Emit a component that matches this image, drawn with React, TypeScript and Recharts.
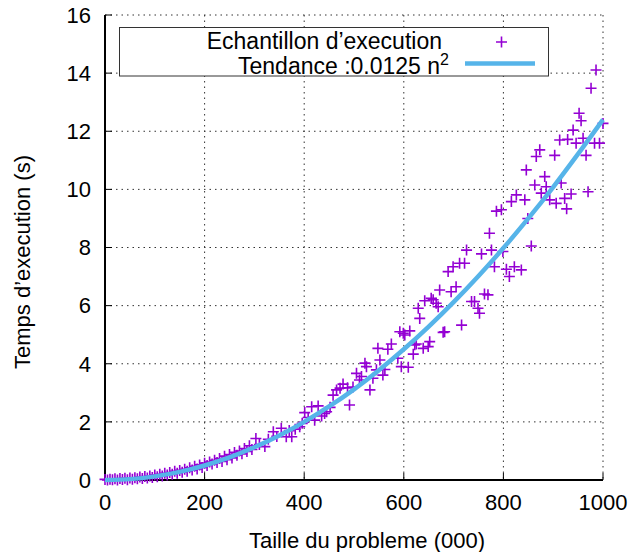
import { ComposedChart, Scatter, Line, XAxis, YAxis, CartesianGrid } from 'recharts';

// Measured samples: problem size (thousands) and execution time (s)
const sampleN = [
  0, 5, 10, 15, 20, 25, 30, 35, 40, 45, 50, 55, 60, 65, 70, 75, 80, 85, 90, 95,
  100, 105, 110, 115, 120, 125, 130, 135, 140, 145, 150, 155, 160, 165, 170, 175, 180, 185, 190, 195,
  200, 205, 210, 215, 220, 225, 230, 235, 240, 245, 250, 255, 260, 265, 270, 275, 280, 285, 290, 295,
  303, 310, 321, 328, 338, 345, 354, 364, 370, 375, 382, 391, 396, 401, 408, 415, 421, 428, 435, 441,
  445, 452, 458, 465, 472, 478, 487, 491, 498, 505, 511, 515, 522, 525, 532, 538, 545, 548, 552, 558,
  562, 568, 575, 588, 592, 595, 599, 602, 609, 612, 619, 622, 625, 629, 632, 639, 642, 649, 652, 655,
  659, 665, 669, 672, 679, 682, 689, 695, 699, 705, 712, 716, 722, 726, 736, 742, 749, 752, 756, 762,
  769, 772, 776, 782, 786, 796, 799, 806, 812, 816, 822, 826, 836, 843, 846, 849, 856, 863, 866, 873,
  876, 883, 886, 893, 903, 906, 913, 916, 923, 927, 929, 936, 940, 946, 952, 956, 960, 966, 970, 976,
  983, 986, 993, 1000,
];
const sampleT = [
  0.02, 0.0, 0.03, 0.01, 0.04, 0.0, 0.05, 0.02, 0.06, 0.01, 0.07, 0.03, 0.08, 0.04, 0.1, 0.05, 0.12, 0.07, 0.14, 0.09,
  0.17, 0.11, 0.2, 0.14, 0.23, 0.17, 0.26, 0.2, 0.3, 0.23, 0.33, 0.27, 0.37, 0.3, 0.42, 0.34, 0.47, 0.38, 0.52, 0.43,
  0.58, 0.5, 0.62, 0.55, 0.68, 0.6, 0.74, 0.64, 0.82, 0.7, 0.88, 0.76, 0.95, 0.85, 1.0, 0.9, 1.08, 0.98, 1.18, 1.05,
  1.43, 1.22, 1.15, 1.4, 1.66, 1.5, 1.78, 1.49, 1.7, 1.49, 1.75, 1.83, 1.95, 2.32, 2.15, 2.52, 2.06, 2.55, 2.2, 2.29,
  2.35, 2.5, 2.92, 3.1, 3.16, 3.3, 3.17, 2.58, 3.2, 3.67, 3.44, 3.56, 4.02, 3.9, 3.1, 3.5, 3.79, 4.53, 4.13, 3.61,
  3.8, 4.5, 4.68, 4.19, 5.1, 3.9, 5.05, 4.99, 3.88, 5.13, 4.33, 4.65, 4.68, 5.91, 5.56, 4.53, 6.17, 4.59, 4.76, 6.25,
  6.2, 6.08, 5.96, 6.54, 5.08, 5.1, 7.17, 6.48, 7.34, 6.65, 7.46, 5.33, 7.46, 7.91, 6.14, 6.14, 5.91, 5.74, 7.78, 6.4,
  6.37, 8.49, 7.91, 7.34, 9.25, 9.3, 7.86, 7.25, 7.0, 9.58, 7.34, 9.81, 7.23, 9.64, 10.67, 9.0, 8.05, 10.15, 11.13, 11.36,
  9.87, 10.44, 10.09, 9.64, 11.17, 9.52, 11.7, 10.22, 9.69, 9.33, 11.72, 9.84, 12.04, 11.59, 12.62, 12.36, 11.76, 11.17, 9.92, 13.48,
  11.59, 14.11, 11.59, 12.27,
];

// Trend curve
const trendN = [0, 50, 100, 150, 200, 250, 300, 350, 400, 450, 500, 550, 600, 650, 700, 750, 800, 850, 900, 950, 1000];
const trendT = [0, 0.03, 0.125, 0.28, 0.5, 0.78, 1.125, 1.53, 2, 2.53, 3.12, 3.78, 4.5, 5.28, 6.12, 7.02, 7.98, 9.0, 10.08, 11.22, 12.4];

const xTicks = [0, 200, 400, 600, 800, 1000];
const yTicks = [0, 2, 4, 6, 8, 10, 12, 14, 16];

const PURPLE = '#9400d3';
const BLUE = '#56b4e9';
const FONT = '"Liberation Sans", Arial, Helvetica, sans-serif';

const samples = sampleN.map((n, i) => ({ n, t: sampleT[i] }));
const trend = trendN.map((n, i) => ({ n, t: trendT[i] }));

const tickStyle = { fontSize: 22, fill: '#000', fontFamily: FONT };
const frame = { stroke: '#000', strokeWidth: 2 };
const tickLine = { stroke: '#000', strokeWidth: 1 };

function Plus(props: any) {
  const { cx, cy } = props;
  if (cx == null || cy == null) return null;
  return (
    <path
      d={`M${cx - 5.5},${cy}h11M${cx},${cy - 5.5}v11`}
      stroke={PURPLE}
      strokeWidth={1.6}
      fill="none"
    />
  );
}

export default function App() {
  return (
    <div style={{ position: 'fixed', left: 0, top: 0, width: 632, height: 552, background: '#fff' }}>
      <ComposedChart width={632} height={552} margin={{ top: 15, right: 29, bottom: 0, left: 0 }}>
        <CartesianGrid stroke="#333" strokeDasharray="1.5 4" />
        <XAxis
          dataKey="n"
          type="number"
          domain={[0, 1000]}
          ticks={xTicks}
          interval={0}
          height={72}
          tick={tickStyle}
          tickSize={-7}
          tickMargin={21}
          tickLine={tickLine}
          axisLine={frame}
        />
        <XAxis
          xAxisId="top"
          orientation="top"
          type="number"
          domain={[0, 1000]}
          ticks={xTicks}
          interval={0}
          height={0}
          tick={false}
          tickSize={-7}
          tickLine={tickLine}
          axisLine={frame}
        />
        <YAxis
          dataKey="t"
          type="number"
          domain={[0, 16]}
          ticks={yTicks}
          interval={0}
          width={105}
          tick={tickStyle}
          tickSize={-7}
          tickMargin={21}
          tickLine={tickLine}
          axisLine={frame}
        />
        <YAxis
          yAxisId="right"
          orientation="right"
          type="number"
          domain={[0, 16]}
          ticks={yTicks}
          interval={0}
          width={0}
          tick={false}
          tickSize={-7}
          tickLine={tickLine}
          axisLine={frame}
        />
        <Scatter data={samples} dataKey="t" shape={Plus} isAnimationActive={false} />
        <Line
          data={trend}
          dataKey="t"
          type="monotone"
          stroke={BLUE}
          strokeWidth={4.5}
          dot={false}
          activeDot={false}
          isAnimationActive={false}
          {...({ zIndex: 700 } as any)}
        />
      </ComposedChart>
      <svg width={632} height={552} style={{ position: 'absolute', left: 0, top: 0, pointerEvents: 'none' }}>
        <text x={367} y={548} textAnchor="middle" fontSize={22} fontFamily={FONT} fill="#000">
          Taille du probleme (000)
        </text>
        <text transform="translate(30,262) rotate(-90)" textAnchor="middle" fontSize={22} fontFamily={FONT} fill="#000">
          Temps d’execution (s)
        </text>
        <rect x={119.5} y={27.5} width={429} height={48.5} fill="#fff" stroke="#333" strokeWidth={1} />
        <text x={442} y={49} textAnchor="end" fontSize={23} fontFamily={FONT} fill="#000">
          Echantillon d’execution
        </text>
        <path d="M496,42h11M501.5,36.5v11" stroke={PURPLE} strokeWidth={1.6} />
        <text x={449} y={74} textAnchor="end" fontSize={23} fontFamily={FONT} fill="#000">
          Tendance :0.0125 n<tspan dy={-9} fontSize={16}>2</tspan>
        </text>
        <line x1={465} x2={535} y1={63.5} y2={63.5} stroke={BLUE} strokeWidth={4.5} />
      </svg>
    </div>
  );
}
